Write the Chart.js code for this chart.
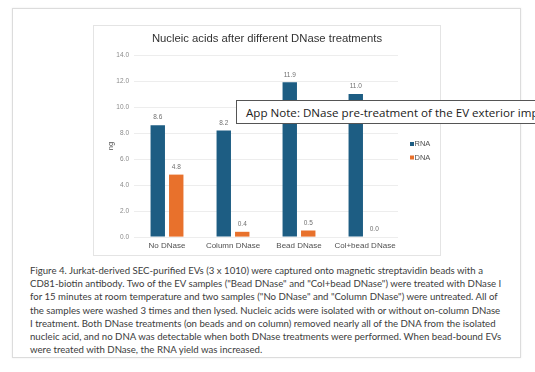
<!DOCTYPE html>
<html>
<head>
<meta charset="utf-8">
<script src="https://cdn.jsdelivr.net/npm/chart.js@4.4.1/dist/chart.umd.min.js"></script>
<style>
  html, body { margin: 0; padding: 0; background: #fff; width: 535px; height: 372px; overflow: hidden; }
  #card { position: absolute; left: 12px; top: 8px; width: 507px; height: 348px; border: 1px solid #dcdcdc; box-shadow: 0 0 2px rgba(0,0,0,0.08); background: #fff; }
  #chartBox { position: absolute; left: 93px; top: 25px; width: 346px; height: 229px; border: 1px solid #e4e4e4; background: #fff; }
  #chartBox canvas { position: absolute; left: 0; top: 0; }
  #caption { position: absolute; left: 30px; top: 264px; font-family: Lato, "Open Sans", sans-serif; font-size: 9.65px; line-height: 13.2px; color: #3c3c3c; }
  #caption div { white-space: nowrap; }
  #note { position: absolute; left: 236px; top: 100px; width: 320px; height: 24px; border: 1px solid #555; background: #fff; font-family: "Open Sans", "Noto Sans", sans-serif; font-size: 11.6px; line-height: 24px; color: #222; padding-left: 9px; white-space: nowrap; box-sizing: border-box; }
</style>
</head>
<body>
<div id="card"></div>
<div id="chartBox"><canvas id="c" width="346" height="229"></canvas></div>
<div id="note">App Note: DNase pre-treatment of the EV exterior imp</div>
<div id="caption">
  <div>Figure 4. Jurkat-derived SEC-purified EVs (3 x 1010) were captured onto magnetic streptavidin beads with a</div>
  <div>CD81-biotin antibody. Two of the EV samples ("Bead DNase" and "Col+bead DNase") were treated with DNase I</div>
  <div>for 15 minutes at room temperature and two samples ("No DNase" and "Column DNase") were untreated. All of</div>
  <div>the samples were washed 3 times and then lysed. Nucleic acids were isolated with or without on-column DNase</div>
  <div>I treatment. Both DNase treatments (on beads and on column) removed nearly all of the DNA from the isolated</div>
  <div>nucleic acid, and no DNA was detectable when both DNase treatments were performed. When bead-bound EVs</div>
  <div>were treated with DNase, the RNA yield was increased.</div>
</div>
<script>
const categories = ["No DNase", "Column DNase", "Bead DNase", "Col+bead DNase"];
const rnaValues = [8.6, 8.2, 11.9, 11.0];
const dnaValues = [4.8, 0.4, 0.5, 0.0];
const seriesNames = ["RNA", "DNA"];
const seriesColors = ["#1d5d83", "#e8712c"];
const yTicks = [0, 2, 4, 6, 8, 10, 12, 14];
const chartTitle = "Nucleic acids after different DNase treatments";
const yTitle = "ng";

const FONT = "'Liberation Sans', Arial, sans-serif";

const valueLabels = {
  id: 'valueLabels',
  afterDatasetsDraw(chart) {
    const ctx = chart.ctx;
    ctx.save();
    ctx.font = "6.5px " + FONT;
    ctx.fillStyle = "#707070";
    ctx.textAlign = "center";
    ctx.textBaseline = "middle";
    chart.data.datasets.forEach((ds, i) => {
      chart.getDatasetMeta(i).data.forEach((bar, j) => {
        ctx.fillText(ds.data[j].toFixed(1), bar.x, bar.y - 7.5);
      });
    });
    ctx.restore();
  }
};

const sideLegend = {
  id: 'sideLegend',
  afterDraw(chart) {
    const ctx = chart.ctx;
    ctx.save();
    ctx.font = "7.5px " + FONT;
    ctx.textBaseline = "middle";
    ctx.textAlign = "left";
    const x0 = chart.chartArea.right + 12;
    chart.data.datasets.forEach((ds, i) => {
      const y = 118 + i * 13.5;
      ctx.fillStyle = ds.backgroundColor;
      ctx.fillRect(x0, y - 2, 4, 4);
      ctx.fillStyle = "#505050";
      ctx.fillText(ds.label, x0 + 4.5, y);
    });
    ctx.restore();
  }
};

const centeredTitle = {
  id: 'centeredTitle',
  afterDraw(chart) {
    const ctx = chart.ctx;
    ctx.save();
    ctx.font = "11.3px " + FONT;
    ctx.fillStyle = "#333333";
    ctx.textAlign = "center";
    ctx.textBaseline = "middle";
    ctx.fillText(chartTitle, chart.width / 2, 13);
    ctx.restore();
  }
};

new Chart(document.getElementById('c'), {
  type: 'bar',
  data: {
    labels: categories,
    datasets: [
      { label: seriesNames[0], data: rnaValues, backgroundColor: seriesColors[0], categoryPercentage: 0.56, barPercentage: 0.78 },
      { label: seriesNames[1], data: dnaValues, backgroundColor: seriesColors[1], categoryPercentage: 0.56, barPercentage: 0.78 }
    ]
  },
  options: {
    responsive: false,
    animation: false,
    devicePixelRatio: 1,
    layout: { padding: { left: 10, right: 42, top: 29, bottom: 0 } },
    plugins: {
      legend: { display: false },
      tooltip: { enabled: false },
      title: { display: false }
    },
    scales: {
      x: {
        grid: { display: false, drawTicks: false },
        border: { display: false },
        ticks: { color: "#505050", font: { family: FONT, size: 8 }, padding: 4, maxRotation: 0, autoSkip: false },
        afterFit(scale) { scale.height = 18; }
      },
      y: {
        min: 0, max: 14,
        afterBuildTicks(scale) { scale.ticks = yTicks.map(v => ({ value: v })); },
        grid: { color: "#e8e8e8", lineWidth: 0.8, drawTicks: false },
        border: { display: false },
        ticks: { color: "#8a8a8a", font: { family: FONT, size: 6.5 }, padding: 5, callback: v => Number(v).toFixed(1) },
        title: { display: true, text: yTitle, color: "#505050", font: { family: FONT, size: 7.5 }, padding: { top: 2, bottom: 0 } },
        afterFit(scale) { scale.width = 30; }
      }
    }
  },
  plugins: [valueLabels, sideLegend, centeredTitle]
});
</script>
</body>
</html>
